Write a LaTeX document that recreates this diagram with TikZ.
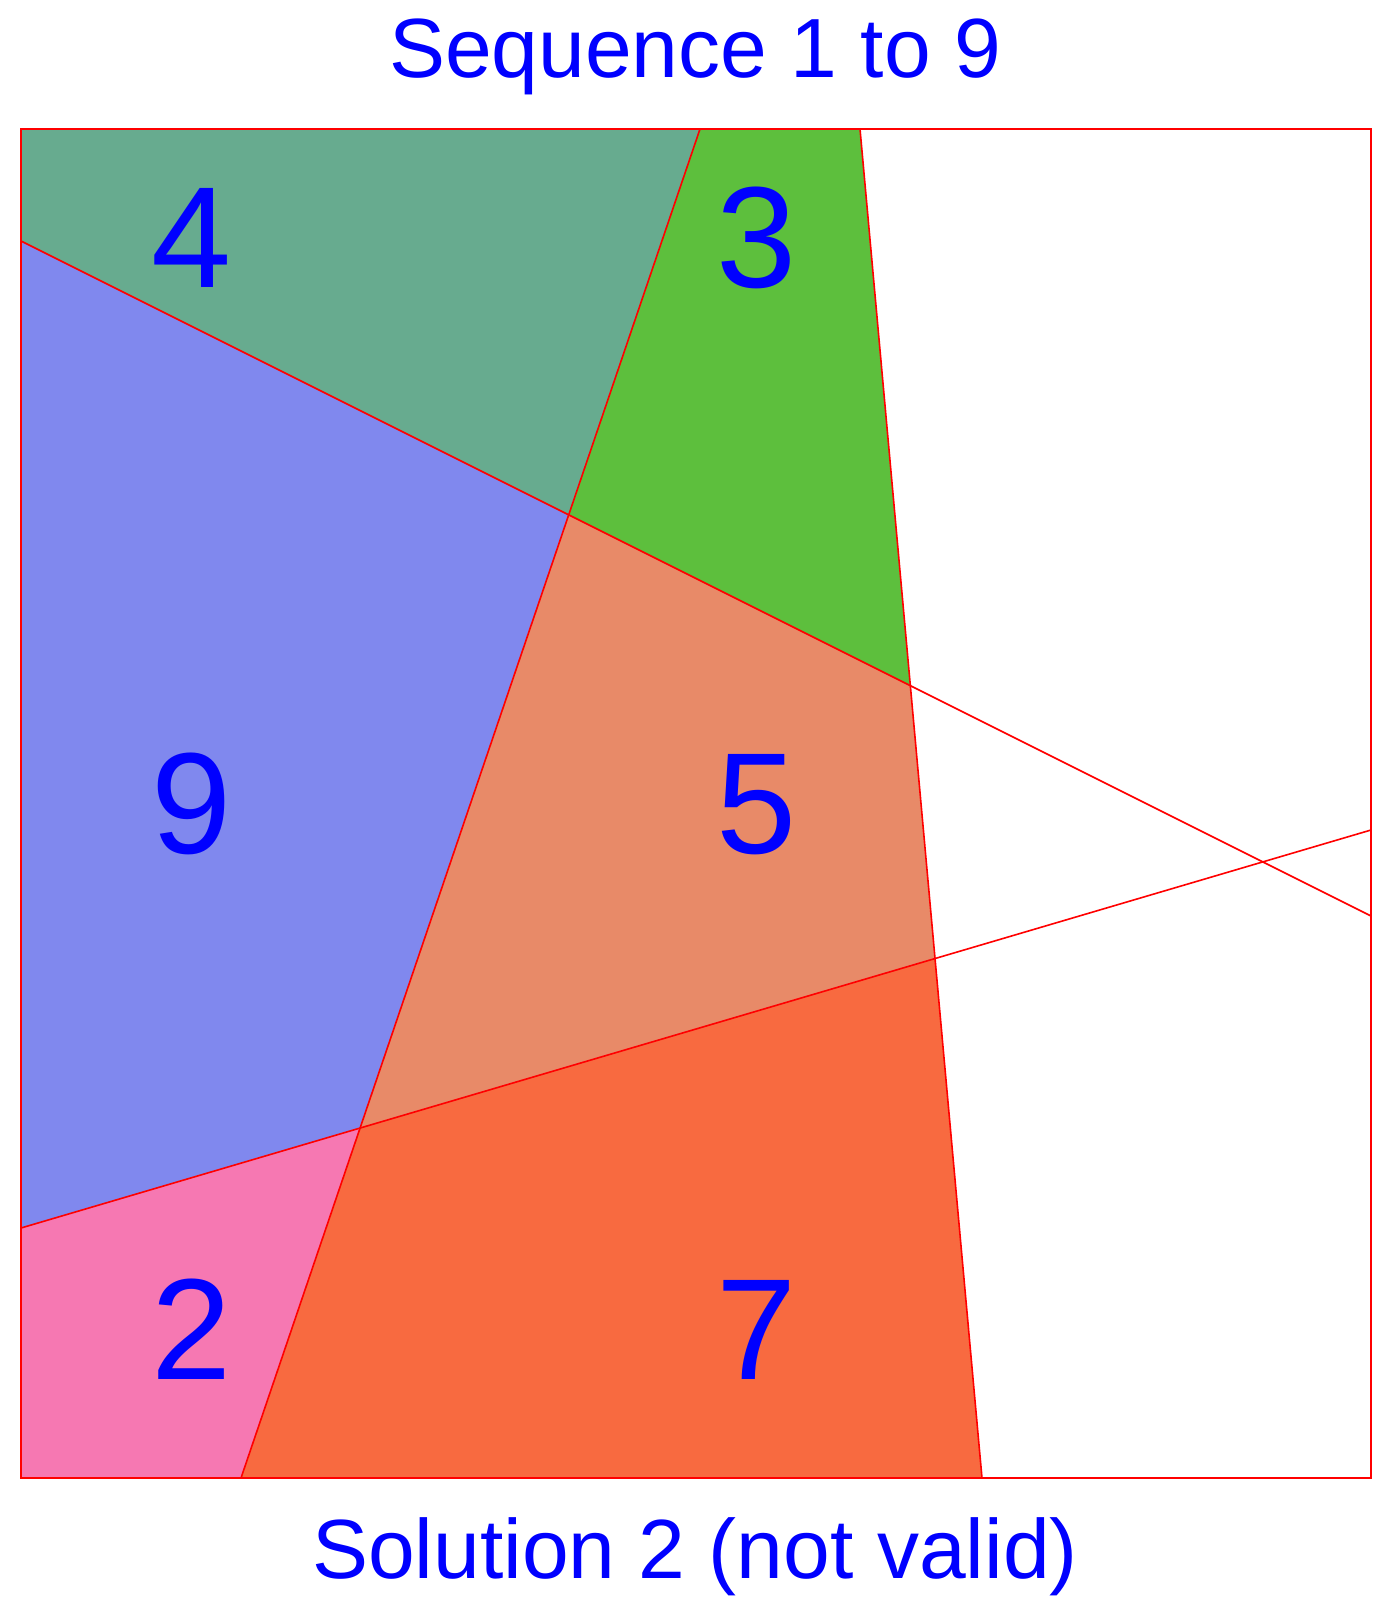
\documentclass[tikz,border=0pt]{standalone}
\usepackage{fontspec}
\setmainfont{Liberation Sans}
\usepackage{tikz}
\usepackage{xcolor}
\definecolor{zone-four}{RGB}{103,171,143}
\definecolor{zone-three}{RGB}{93,191,61}
\definecolor{zone-nine}{RGB}{128,136,238}
\definecolor{zone-five}{RGB}{232,138,104}
\definecolor{zone-two}{RGB}{246,120,178}
\definecolor{zone-seven}{RGB}{248,106,64}
\tikzset{
    cut-line/.style = {draw=red, line width=0.8pt},
    zone-num/.style = {text=blue, anchor=base, inner sep=0pt, font=\fontsize{72}{72}\selectfont},
    caption-text/.style = {text=blue, anchor=base, inner sep=0pt, font=\fontsize{42}{42}\selectfont},
}

\begin{document}
\begin{tikzpicture}[x=0.5pt, y=-0.5pt]
\useasboundingbox (0,0) rectangle (1394,1600);
% square and the four cuts
\coordinate (tl) at (21,129);
\coordinate (tr) at (1371,129);
\coordinate (br) at (1371,1478);
\coordinate (bl) at (21,1478);
\coordinate (a1) at (700,129);
\coordinate (a2) at (241,1478);
\coordinate (b1) at (860,129);
\coordinate (b2) at (982,1478);
\coordinate (c1) at (21,241);
\coordinate (c2) at (1371,916);
\coordinate (d1) at (21,1228);
\coordinate (d2) at (1371,830);
\coordinate (ac) at (intersection of a1--a2 and c1--c2);
\coordinate (bc) at (intersection of b1--b2 and c1--c2);
\coordinate (bd) at (intersection of b1--b2 and d1--d2);
\coordinate (ad) at (intersection of a1--a2 and d1--d2);
% pieces
\fill[zone-four] (tl) -- (a1) -- (ac) -- (c1) -- cycle;
\fill[zone-three] (a1) -- (b1) -- (bc) -- (ac) -- cycle;
\fill[zone-nine] (c1) -- (ac) -- (ad) -- (d1) -- cycle;
\fill[zone-five] (ac) -- (bc) -- (bd) -- (ad) -- cycle;
\fill[zone-two] (d1) -- (ad) -- (a2) -- (bl) -- cycle;
\fill[zone-seven] (ad) -- (bd) -- (b2) -- (a2) -- cycle;
\draw[cut-line] (tl) -- (tr) -- (br) -- (bl) -- cycle;
\draw[cut-line] (a1) -- (a2);
\draw[cut-line] (b1) -- (b2);
\draw[cut-line] (c1) -- (c2);
\draw[cut-line] (d1) -- (d2);
% numbers
\node[zone-num] (n4) at (192,287) {4};
\node[zone-num] (n3) at (757,287) {3};
\node[zone-num] (n9) at (192,853) {9};
\node[zone-num] (n5) at (757,853) {5};
\node[zone-num] (n2) at (192,1379) {2};
\node[zone-num] (n7) at (757,1379) {7};
\node[caption-text] (title) at (695,78) {Sequence 1 to 9};
\node[caption-text] (result) at (695,1578) {Solution 2 (not valid)};
\end{tikzpicture}
\end{document}
